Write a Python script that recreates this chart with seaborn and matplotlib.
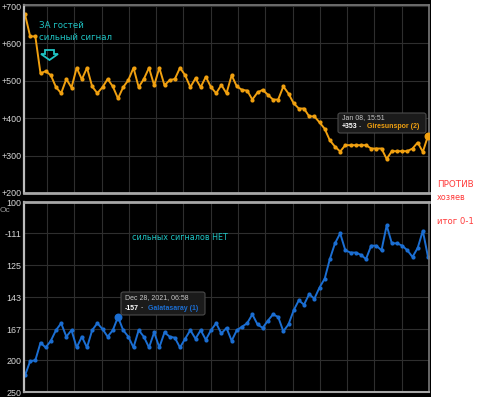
import numpy as np
import pandas as pd
import matplotlib
matplotlib.use("Agg")
import matplotlib.pyplot as plt
import seaborn as sns
from matplotlib.patches import Rectangle, FancyBboxPatch, Polygon

# Коэффициенты (американский формат)
away_odds = [678, 619, 619, 520, 526, 515, 483, 467, 505, 482,
             535, 504, 535, 485, 467, 483, 505, 485, 453, 483,
             502, 535, 483, 505, 535, 488, 535, 488, 502, 505,
             535, 515, 483, 507, 483, 511, 483, 467, 489, 467,
             515, 485, 476, 474, 450, 469, 476, 463, 450, 450,
             485, 466, 440, 426, 426, 405, 405, 389, 372, 341,
             324, 311, 328, 328, 328, 328, 328, 319, 319, 319,
             291, 312, 312, 312, 312, 319, 335, 310, 353]
home_odds = [-221, -201, -200, -180, -185, -178, -168, -162, -174, -168,
             -185, -174, -185, -168, -162, -167, -174, -168, -157, -168,
             -174, -185, -168, -174, -185, -170, -185, -170, -174, -175,
             -185, -176, -168, -176, -168, -177, -168, -162, -171, -166,
             -178, -168, -165, -162, -155, -163, -166, -160, -155, -157,
             -169, -163, -152, -145, -148, -141, -144, -137, -132, -122,
             -115, -111, -118, -119, -119, -120, -122, -116, -116, -118,
             -108, -115, -115, -116, -118, -121, -117, -110, -121]

top_ticks = [700, 600, 500, 400, 300, 200]
top_labels = ["+700", "+600", "+500", "+400", "+300", "+200"]
bottom_ticks = [-100, -111, -125, -143, -167, -200, -250]
bottom_labels = ["100", "-111", "125", "143", "167", "200", "250"]

away_hover = 78   # точка с подсказкой Giresunspor
home_hover = 18   # точка с подсказкой Galatasaray


def to_decimal(us):
    us = np.asarray(us, dtype=float)
    return np.where(us > 0, 1 + us / 100, 1 + 100 / np.abs(us))


orange = "#f0a010"
blue = "#1b6ed2"
cyan = "#1fc4c4"
red = "#ff3b3b"

sns.set_theme(style="dark", rc={"axes.facecolor": "black", "grid.color": "#2e2e2e"})
plt.rcParams["font.family"] = ["Liberation Sans", "DejaVu Sans"]

W, H = 500, 397
fig = plt.figure(figsize=(W / 100, H / 100), dpi=100)
fig.patch.set_facecolor("white")
fig.add_artist(Rectangle((0, 0), 431 / W, 1, transform=fig.transFigure,
                         facecolor="black", edgecolor="none", zorder=-10))

ax1 = fig.add_axes([24 / W, 1 - 193 / H, 405 / W, 188 / H])
ax2 = fig.add_axes([24 / W, 1 - 392 / H, 405 / W, 190 / H])

df_away = pd.DataFrame({"step": np.arange(len(away_odds)), "odds": away_odds})
df_home = pd.DataFrame({"step": np.arange(len(home_odds)),
                        "dec": to_decimal(home_odds)})

sns.lineplot(data=df_away, x="step", y="odds", color=orange, marker="o",
             markersize=3, markeredgewidth=0, linewidth=1.4, ax=ax1)
sns.lineplot(data=df_home, x="step", y="dec", color=blue, marker="o",
             markersize=3, markeredgewidth=0, linewidth=1.4, ax=ax2)
ax1.scatter(df_away["step"][away_hover], df_away["odds"][away_hover], s=22,
            color=orange, zorder=5)
ax2.scatter(df_home["step"][home_hover], df_home["dec"][home_hover], s=22,
            color=blue, zorder=5)

n = len(away_odds) - 1
pxu = 403 / n
grid_x = 4.26 + 5.28 * np.arange(14)
for ax in (ax1, ax2):
    ax.set_xlim(-1 / pxu, n + 1 / pxu)
    ax.set_xticks(grid_x)
    ax.set_xticklabels([])
    ax.grid(True, color="#2e2e2e", linewidth=0.8)
    ax.set_xlabel("")
    ax.set_ylabel("")
    ax.tick_params(axis="y", length=0, pad=2, labelsize=6.4, labelcolor="#d8d8d8")
    ax.tick_params(axis="x", length=0)
    ax.spines["left"].set_color("#bdbdbd")
    ax.spines["left"].set_linewidth(1.6)
    ax.spines["right"].set_color("#7a7a7a")
    ax.spines["right"].set_linewidth(1.2)

ax1.set_ylim(200, 703)
ax1.set_yticks(top_ticks)
ax1.set_yticklabels(top_labels)
ax1.spines["top"].set_color("#7a7a7a")
ax1.spines["bottom"].set_color("#a8a8a8")
ax1.spines["bottom"].set_linewidth(2)

ax2.set_ylim(1.4, 2.0)
ax2.set_yticks(to_decimal(bottom_ticks))
ax2.set_yticklabels(bottom_labels)
ax2.spines["top"].set_color("#a8a8a8")
ax2.spines["top"].set_linewidth(2)
ax2.spines["bottom"].set_color("#a8a8a8")
ax2.spines["bottom"].set_linewidth(1.5)
ax2.get_yticklabels()[0].set_bbox(dict(facecolor="black", edgecolor="none", pad=0.3))


def ftext(x, y, s, **kw):
    fig.text(x / W, 1 - y / H, s, va="center", **kw)


def tip_box(x0, y0, x1, y1):
    fig.add_artist(FancyBboxPatch((x0 / W, 1 - y1 / H), (x1 - x0) / W, (y1 - y0) / H,
                                  boxstyle="round,pad=0,rounding_size=0.005",
                                  transform=fig.transFigure, facecolor="#1b1b1b",
                                  edgecolor="#4a4a4a", linewidth=0.8, zorder=8))


# подписи
ftext(39, 25, "ЗА гостей", color=cyan, fontsize=6.2, family="DejaVu Sans")
ftext(39, 37, "сильный сигнал", color=cyan, fontsize=6.2, family="DejaVu Sans")
arrow_px = [(45, 50), (54, 50), (54, 54), (58, 54), (49.5, 60), (41, 54), (45, 54)]
fig.add_artist(Polygon([(x / W, 1 - y / H) for x, y in arrow_px], closed=True,
                       transform=fig.transFigure, fill=False, edgecolor=cyan,
                       linewidth=1.3))
ftext(132, 237, "сильных сигналов НЕТ", color=cyan, fontsize=5.8, family="DejaVu Sans")
ftext(0, 210, "Oc", color="#9a9a9a", fontsize=6)

ftext(437, 185, "ПРОТИВ", color=red, fontsize=6.3, family="DejaVu Sans")
ftext(437, 197, "хозяев", color=red, fontsize=5.8, family="DejaVu Sans")
ftext(437, 222, "итог 0-1", color=red, fontsize=6.1, family="DejaVu Sans")

# подсказки
tip_box(338, 113, 426, 133)
ftext(342, 118, "Jan 08, 15:51", color="#c8c8c8", fontsize=5, zorder=9)
ftext(342, 127, "+353", color="white", fontsize=5, fontweight="bold", zorder=9)
ftext(359, 127, "-", color="#c8c8c8", fontsize=5, zorder=9)
ftext(367, 127, "Giresunspor (2)", color=orange, fontsize=5, fontweight="bold", zorder=9)

tip_box(121, 292, 205, 315)
ftext(125, 298, "Dec 28, 2021, 06:58", color="#c8c8c8", fontsize=5, zorder=9)
ftext(125, 308, "-157", color="white", fontsize=5, fontweight="bold", zorder=9)
ftext(141, 308, "-", color="#c8c8c8", fontsize=5, zorder=9)
ftext(148, 308, "Galatasaray (1)", color=blue, fontsize=5, fontweight="bold", zorder=9)

fig.savefig("out.png", dpi=100, facecolor=fig.get_facecolor())
